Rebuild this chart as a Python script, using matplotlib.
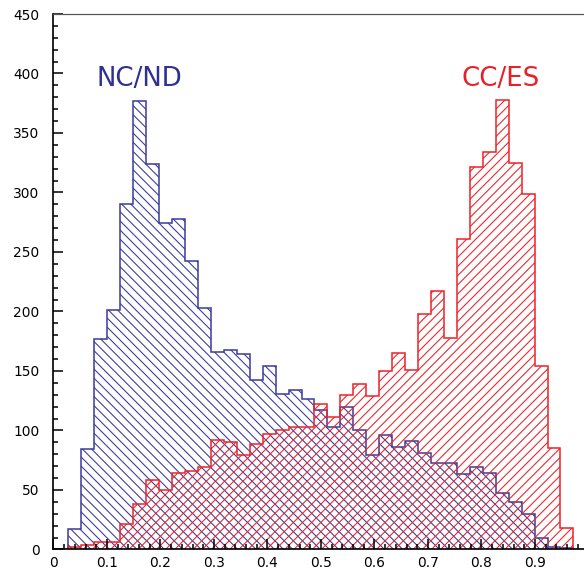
import numpy as np
import matplotlib
matplotlib.use("Agg")
import matplotlib.pyplot as plt
from matplotlib.ticker import MultipleLocator

# Histogram binning (classifier output)
bin_start = 0.0282
bin_width = 0.0242

# NC/ND event counts per bin
nc_nd = [17, 84, 177, 201, 290, 377, 324, 274, 278, 242,
         203, 166, 168, 164, 142, 154, 131, 134, 126, 117,
         103, 120, 100, 79, 96, 86, 91, 81, 73, 73,
         63, 69, 64, 47, 40, 30, 10, 2, 1]

# CC/ES event counts per bin
cc_es = [2, 4, 6, 6, 21, 38, 58, 50, 64, 66,
         69, 92, 90, 79, 89, 97, 100, 103, 103, 122,
         111, 130, 139, 129, 150, 165, 151, 198, 217, 178,
         261, 321, 334, 378, 325, 299, 154, 85, 18]

labels = ["NC/ND", "CC/ES"]

blue = "#3a3a9c"
red = "#ee2228"
blue_text = "#2e318f"
red_text = "#e8202a"

plt.rcParams["font.family"] = ["DejaVu Sans"]
plt.rcParams["hatch.linewidth"] = 0.7

W, H, DPI = 584, 570, 110
fig = plt.figure(figsize=(W / DPI, H / DPI), dpi=DPI)
x0, y0, ytop = 53.4, 20.6, 556.0
ax = fig.add_axes([x0 / W, y0 / H, (W - x0) / W, (ytop - y0) / H])

edges = bin_start + bin_width * np.arange(len(nc_nd) + 1)

for vals, col, hatch in ((nc_nd, blue, "\\\\\\\\"), (cc_es, red, "////")):
    ax.stairs(vals, edges, fill=True, facecolor="none", edgecolor=col,
              hatch=hatch, linewidth=0)
    ax.stairs(vals, edges, fill=False, color=col, linewidth=1.0, baseline=0)

ax.text(0.161, 389.5, labels[0], color=blue_text, fontsize=17,
        ha="center", va="baseline")
ax.text(0.8364, 389.5, labels[1], color=red_text, fontsize=17,
        ha="center", va="baseline")

ax.set_xlim(0, (W - x0) / 535.0)
ax.set_ylim(0, 450)

ax.xaxis.set_major_locator(MultipleLocator(0.1))
ax.xaxis.set_minor_locator(MultipleLocator(0.02))
ax.yaxis.set_major_locator(MultipleLocator(50))
ax.yaxis.set_minor_locator(MultipleLocator(10))
ax.xaxis.set_major_formatter(plt.FuncFormatter(
    lambda v, p: "0" if abs(v) < 1e-9 else f"{v:.1f}"))

ax.tick_params(which="both", direction="in", top=False, right=False,
               width=1.0, color="black", labelsize=9)
ax.tick_params(which="major", length=6.5)
ax.tick_params(which="minor", length=3.3)
ax.tick_params(axis="y", which="major", pad=9.0)
ax.tick_params(axis="x", which="major", pad=4.6)

for side in ("left", "bottom"):
    ax.spines[side].set_linewidth(1.1)
    ax.spines[side].set_color("black")
ax.spines["top"].set_linewidth(0.8)
ax.spines["top"].set_color("#555555")
ax.spines["right"].set_visible(False)

fig.savefig("out.png", dpi=DPI)
